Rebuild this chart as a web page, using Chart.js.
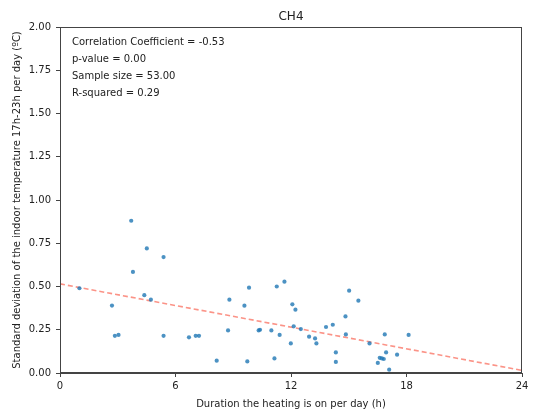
<!DOCTYPE html>
<html>
<head>
<meta charset="utf-8">
<script src="https://cdn.jsdelivr.net/npm/chart.js@4"></script>
<style>
    html, body { margin: 0; padding: 0; background: #fff; }
    #wrap { width: 533px; height: 410px; }
</style>
</head>
<body>
<div id="wrap"><canvas id="scatterChart"></canvas></div>
<script>
// hours the heating is on per day
const hoursOn = [
    1.01, 2.70, 2.85, 3.04, 3.70, 3.79, 4.51, 4.38, 4.72, 5.38,
    5.38, 6.70, 7.05, 7.22, 8.14, 8.73, 8.80, 9.58, 9.82, 9.73,
    10.32, 10.39, 10.98, 11.14, 11.26, 11.41, 11.66, 11.99, 12.07, 12.23,
    12.14, 12.51, 12.94, 13.25, 13.32, 13.82, 14.17, 14.33, 14.33, 14.83,
    14.85, 15.02, 15.50, 16.08, 16.51, 16.61, 16.72, 16.82, 16.87, 16.94,
    17.10, 17.51, 18.11
];
// std dev of indoor temperature 17h-23h
const tempStd = [
    0.490, 0.390, 0.215, 0.220, 0.880, 0.584, 0.720, 0.450, 0.424, 0.670,
    0.215, 0.206, 0.215, 0.215, 0.071, 0.246, 0.424, 0.389, 0.493, 0.067,
    0.246, 0.250, 0.246, 0.084, 0.500, 0.220, 0.528, 0.171, 0.397, 0.366,
    0.270, 0.254, 0.210, 0.200, 0.171, 0.266, 0.279, 0.119, 0.064, 0.327,
    0.223, 0.476, 0.418, 0.171, 0.058, 0.088, 0.084, 0.081, 0.223, 0.119,
    0.019, 0.106, 0.220
];
// regression line end points
const fitX = [0, 24];
const fitY = [0.515, 0.015];

const statsText = [
    'Correlation Coefficient = -0.53',
    'p-value = 0.00',
    'Sample size = 53.00',
    'R-squared = 0.29'
];
const xTicks = [0, 6, 12, 18, 24];

const font = 'DejaVu Sans';
const ink = '#222';
const axisColor = '#444';

const framePlugin = {
    id: 'frame',
    afterDraw(chart) {
        const { ctx, chartArea: a } = chart;
        ctx.save();
        ctx.strokeStyle = axisColor;
        ctx.lineWidth = 1;
        ctx.strokeRect(a.left + 0.5, a.top + 0.5, a.right - a.left - 1, a.bottom - a.top - 1);
        ctx.fillStyle = ink;
        ctx.font = `10px "${font}"`;
        ctx.textBaseline = 'middle';
        statsText.forEach((line, i) => {
            ctx.fillText(line, a.left + 12, a.top + 15 + i * 17.3);
        });
        ctx.restore();
    }
};

new Chart(document.getElementById('scatterChart'), {
    type: 'scatter',
    data: {
        datasets: [{
            label: 'data',
            data: hoursOn.map((x, i) => ({ x: x, y: tempStd[i] })),
            backgroundColor: 'rgba(31, 119, 180, 0.8)',
            borderWidth: 0,
            pointRadius: 2.1,
        }, {
            type: 'line',
            label: 'fit',
            data: fitX.map((x, i) => ({ x: x, y: fitY[i] })),
            borderColor: 'rgba(250, 128, 114, 0.85)',
            borderWidth: 1.6,
            borderDash: [5, 3],
            pointRadius: 0,
            fill: false,
        }]
    },
    options: {
        responsive: true,
        maintainAspectRatio: false,
        animation: false,
        layout: { padding: { left: 0, right: 11, top: 0, bottom: 0 } },
        plugins: {
            legend: { display: false },
            tooltip: { enabled: false },
            title: {
                display: true,
                text: 'CH4',
                fullSize: false,
                color: ink,
                font: { family: font, size: 12, weight: 'normal' },
                padding: { top: 10, bottom: 2.6 }
            }
        },
        scales: {
            x: {
                type: 'linear',
                min: 0,
                max: 24,
                afterBuildTicks: (scale) => { scale.ticks = xTicks.map(v => ({ value: v })); },
                afterFit: (scale) => { scale.height = 37; },
                ticks: { color: ink, font: { family: font, size: 10 }, padding: 3 },
                grid: { display: true, drawOnChartArea: false, drawTicks: true, tickLength: 4, color: axisColor },
                border: { display: true, color: axisColor },
                title: {
                    display: true,
                    text: 'Duration the heating is on per day (h)',
                    color: ink,
                    font: { family: font, size: 10 },
                    padding: { top: 2, bottom: 0 }
                }
            },
            y: {
                min: 0,
                max: 2,
                afterFit: (scale) => { scale.width = 60; },
                ticks: {
                    stepSize: 0.25,
                    color: ink,
                    font: { family: font, size: 10 },
                    padding: 5,
                    callback: (v) => v.toFixed(2)
                },
                grid: { display: true, drawOnChartArea: false, drawTicks: true, tickLength: 4, color: axisColor },
                border: { display: true, color: axisColor },
                title: {
                    display: true,
                    text: 'Standard deviation of the indoor temperature 17h-23h per day (ºC)',
                    color: ink,
                    font: { family: font, size: 10 },
                    padding: { top: 11, bottom: 0 }
                }
            }
        }
    },
    plugins: [framePlugin]
});
</script>
</body>
</html>
